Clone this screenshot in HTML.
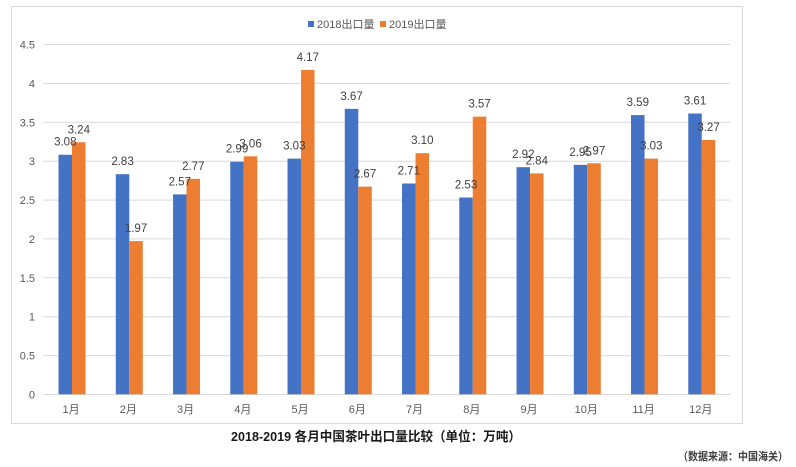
<!DOCTYPE html>
<html><head><meta charset="utf-8"><style>
html,body{margin:0;padding:0;background:#fff;}
svg{display:block;}
text{font-family:"Liberation Sans","Noto Sans CJK SC",sans-serif;}
</style></head><body>
<svg width="796" height="467" viewBox="0 0 796 467" xmlns="http://www.w3.org/2000/svg">
<rect x="0" y="0" width="796" height="467" fill="#fff"/>
<rect x="11.5" y="6.5" width="731" height="417" fill="#fff" stroke="#d9d9d9" stroke-width="1"/>
<g stroke="#d9d9d9" stroke-width="1">
<line x1="43" y1="44.5" x2="730" y2="44.5"/>
<line x1="43" y1="83.4" x2="730" y2="83.4"/>
<line x1="43" y1="122.3" x2="730" y2="122.3"/>
<line x1="43" y1="161.2" x2="730" y2="161.2"/>
<line x1="43" y1="200.1" x2="730" y2="200.1"/>
<line x1="43" y1="238.9" x2="730" y2="238.9"/>
<line x1="43" y1="277.8" x2="730" y2="277.8"/>
<line x1="43" y1="316.7" x2="730" y2="316.7"/>
<line x1="43" y1="355.6" x2="730" y2="355.6"/>
<line x1="43" y1="394.5" x2="730" y2="394.5"/>
</g>
<g font-size="11" fill="#595959" text-anchor="end">
<text x="35" y="48.5">4.5</text>
<text x="35" y="87.4">4</text>
<text x="35" y="126.3">3.5</text>
<text x="35" y="165.2">3</text>
<text x="35" y="204.1">2.5</text>
<text x="35" y="242.9">2</text>
<text x="35" y="281.8">1.5</text>
<text x="35" y="320.7">1</text>
<text x="35" y="359.6">0.5</text>
<text x="35" y="398.5">0</text>
</g>
<g id="bars"></g>
<g font-size="11" fill="#595959" text-anchor="middle" id="months"></g>
<g font-size="11.5" fill="#404040" text-anchor="middle" id="labels"></g>
<rect x="308" y="21" width="6" height="6" fill="#4472c4"/>
<text x="317" y="28" font-size="11" fill="#595959">2018出口量</text>
<rect x="380" y="21" width="6" height="6" fill="#ed7d31"/>
<text x="389" y="28" font-size="11" fill="#595959">2019出口量</text>
<text x="376" y="441" font-size="13" font-weight="bold" fill="#1a1a1a" text-anchor="middle" textLength="290" lengthAdjust="spacingAndGlyphs">2018-2019 各月中国茶叶出口量比较（单位：万吨）</text>
<text x="733" y="460" font-size="11" font-weight="bold" fill="#404040" text-anchor="middle" textLength="110" lengthAdjust="spacingAndGlyphs">（数据来源：中国海关）</text>
</svg>
<script>
(function(){
var a=[3.08,2.83,2.57,2.99,3.03,3.67,2.71,2.53,2.92,2.95,3.59,3.61];
var b=[3.24,1.97,2.77,3.06,4.17,2.67,3.10,3.57,2.84,2.97,3.03,3.27];
var ns="http://www.w3.org/2000/svg";
var bars=document.getElementById("bars"),labels=document.getElementById("labels"),months=document.getElementById("months");
function y(v){return 394.3-v*77.78;}
function el(t,attrs,txt){var e=document.createElementNS(ns,t);for(var k in attrs)e.setAttribute(k,attrs[k]);if(txt!==undefined)e.textContent=txt;return e;}
for(var i=0;i<12;i++){
var cx=43.4+57.25*(i+0.5);
var ya=y(a[i]),yb=y(b[i]);
bars.appendChild(el("rect",{x:cx-13.5,y:ya,width:13.5,height:394.3-ya,fill:"#4472c4"}));
bars.appendChild(el("rect",{x:cx,y:yb,width:13.5,height:394.3-yb,fill:"#ed7d31"}));
labels.appendChild(el("text",{x:cx-6.75,y:ya-9},a[i].toFixed(2)));
labels.appendChild(el("text",{x:cx+6.75,y:yb-9},b[i].toFixed(2)));
months.appendChild(el("text",{x:cx-1,y:413},(i+1)+"月"));
}
})();
</script>
</body></html>
